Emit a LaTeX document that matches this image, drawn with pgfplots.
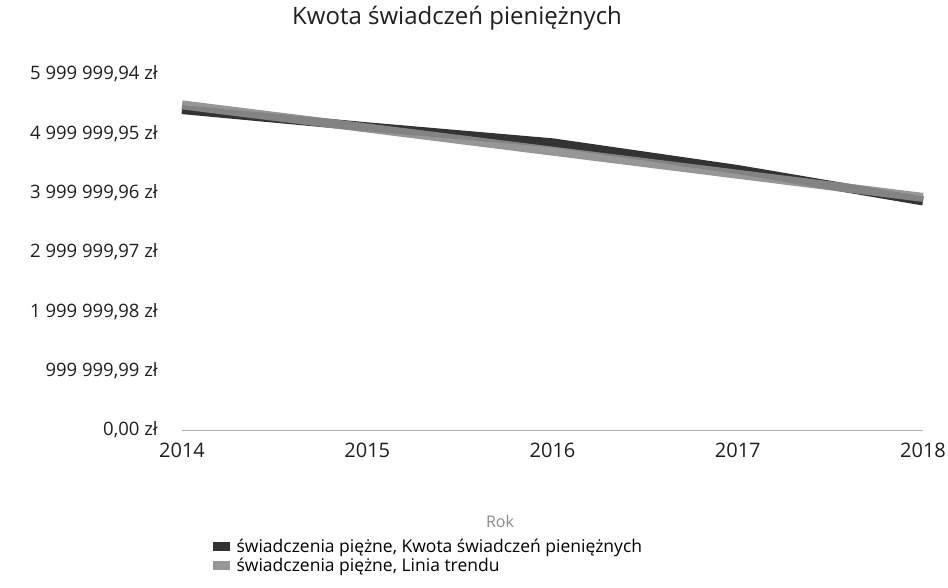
\documentclass[border=0pt]{standalone}
\usepackage{pgfplots}
\pgfplotsset{compat=1.18}
\usepackage{fontspec}
\setmainfont{Open Sans}
\definecolor{dataC}{HTML}{333333}
\definecolor{trendC}{HTML}{8C8C8C}
\definecolor{axC}{HTML}{B0B0B0}
\definecolor{titleC}{HTML}{1E1E1E}
\definecolor{labC}{HTML}{8A8A8A}
\begin{document}
\begin{tikzpicture}[x=1pt,y=1pt]
\path[use as bounding box] (0,0) rectangle (948,588);
\begin{axis}[
  at={(182pt,158pt)}, anchor=south west,
  scale only axis, width=741pt, height=356pt,
  xmin=2014, xmax=2018, ymin=0, ymax=5999999.94,
  axis x line*=bottom, axis y line*=left,
  x axis line style={axC, line width=0.6pt, -},
  y axis line style={draw=none},
  xtick={2014,2015,2016,2017,2018},
  xticklabels={2014,2015,2016,2017,2018},
  ytick={0,999999.99,1999999.98,2999999.97,3999999.96,4999999.95,5999999.94},
  yticklabels={{0,00 zł},{999 999,99 zł},{1 999 999,98 zł},{2 999 999,97 zł},{3 999 999,96 zł},{4 999 999,95 zł},{5 999 999,94 zł}},
  major tick length=0pt,
  xticklabel style={font=\fontsize{20}{24}\selectfont, text=titleC, inner sep=0pt, anchor=north, yshift=-13pt},
  yticklabel style={font=\fontsize{18.5}{21}\selectfont, text=titleC, inner sep=0pt, anchor=east, xshift=-24pt},
  scaled y ticks=false,
  clip=false,
  legend style={at={(0.041,-0.30)}, anchor=north west, draw=none, fill=none,
    font=\fontsize{17.5}{20}\selectfont, row sep=0pt, column sep=5pt, inner sep=0pt,
    legend cell align=left, nodes={inner sep=2pt}},
  legend image code/.code={\fill[#1,draw=none] (0pt,-4.5pt) rectangle (17pt,4.5pt);},
]
\addplot[dataC, line width=9pt, line join=round] coordinates {
  (2014,5400000) (2015,5110000) (2016,4840000) (2017,4390000) (2018,3860000)
};
\addlegendentry{świadczenia piężne, Kwota świadczeń pieniężnych}
\addplot[trendC, line width=9pt, opacity=0.9] coordinates {
  (2014,5480000) (2015,5090000) (2016,4700000) (2017,4310000) (2018,3920000)
};
\addlegendentry{świadczenia piężne, Linia trendu}
\end{axis}
\node[font=\fontsize{24}{28}\selectfont, text=titleC] at (457,570) {Kwota świadczeń pieniężnych};
\node[font=\fontsize{16}{19}\selectfont, text=labC] at (500,66) {Rok};
\end{tikzpicture}
\end{document}
